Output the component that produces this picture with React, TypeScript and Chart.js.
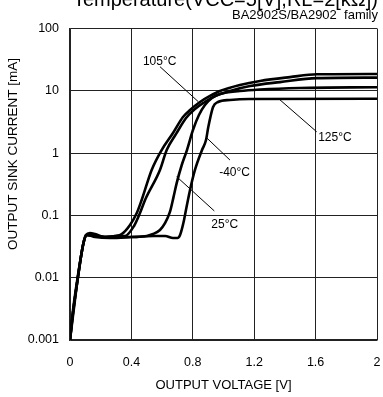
import React, { useEffect, useRef } from 'react';
import { Chart, registerables } from 'chart.js';

Chart.register(...registerables);

// ---- axis ticks ----
const xTicks = [0, 0.4, 0.8, 1.2, 1.6, 2];
const xTickLabels = ['0', '0.4', '0.8', '1.2', '1.6', '2'];
const yTicks = [0.001, 0.01, 0.1, 1, 10, 100];
const yTickLabels = ['0.001', '0.01', '0.1', '1', '10', '100'];

// ---- series (output voltage [V] / output sink current [mA]) ----
const seriesNames = ['105°C', '125°C', '25°C', '-40°C'];

const v105 = [0, 0.02, 0.052, 0.085, 0.104, 0.13, 0.163, 0.228, 0.293, 0.337, 0.391, 0.435, 0.467, 0.532, 0.597, 0.671, 0.736, 0.782, 0.847, 0.912, 0.977, 1.107, 1.238, 1.433, 1.609, 2.0];
const i105 = [0.001, 0.0028, 0.0103, 0.0335, 0.0484, 0.052, 0.0502, 0.045, 0.0467, 0.0502, 0.0702, 0.109, 0.177, 0.536, 1.12, 2.1, 3.8, 4.92, 6.61, 8.26, 9.93, 12.4, 14.4, 16.6, 18.4, 18.6];

const v125 = [0, 0.013, 0.052, 0.091, 0.111, 0.16, 0.228, 0.3, 0.358, 0.417, 0.456, 0.489, 0.586, 0.63, 0.691, 0.756, 0.814, 0.879, 0.945, 1.042, 1.173, 1.368, 1.609, 2.0];
const i125 = [0.001, 0.0022, 0.011, 0.0388, 0.0484, 0.0467, 0.045, 0.0467, 0.0467, 0.0676, 0.109, 0.177, 0.536, 1.12, 2.03, 3.66, 5.1, 6.61, 8.26, 9.93, 11.9, 13.8, 16.0, 16.3];

const v25 = [0, 0.02, 0.052, 0.085, 0.111, 0.163, 0.26, 0.4, 0.5, 0.541, 0.586, 0.619, 0.651, 0.675, 0.695, 0.728, 0.762, 0.801, 0.84, 0.879, 0.925, 0.977, 1.107, 1.238, 1.498, 2.0];
const i25 = [0.001, 0.0025, 0.0103, 0.0335, 0.0484, 0.045, 0.0433, 0.045, 0.0467, 0.0502, 0.0584, 0.075, 0.1135, 0.2, 0.33, 0.644, 1.12, 2.35, 4.09, 5.92, 7.66, 8.89, 9.93, 10.5, 11.1, 11.4];

const vM40 = [0, 0.02, 0.052, 0.085, 0.104, 0.16, 0.25, 0.4, 0.55, 0.62, 0.671, 0.7, 0.717, 0.743, 0.749, 0.782, 0.814, 0.86, 0.886, 0.901, 0.932, 0.964, 1.042, 1.173, 2.0];
const iM40 = [0.001, 0.0028, 0.0103, 0.0335, 0.0484, 0.0467, 0.045, 0.045, 0.0467, 0.0467, 0.0433, 0.0433, 0.0484, 0.0843, 0.101, 0.256, 0.536, 1.12, 1.62, 2.62, 5.5, 6.61, 7.12, 7.38, 7.47];

// ---- curve labels with leader lines (data coordinates) ----
const labelTexts = ['105°C', '125°C', '-40°C', '25°C'];
const labelX = [0.584, 1.726, 1.072, 1.008];
const labelY = [29.3, 1.79, 0.484, 0.072];
const leaderFromX = [0.586, 1.357, 0.888, 0.695];
const leaderFromY = [24.4, 7.55, 1.78, 0.418];
const leaderToX = [0.836, 1.607, 1.042, 0.94];
const leaderToY = [6.68, 2.2, 0.774, 0.118];

const titleText = 'Temperature(VCC=5[V],RL=2[kΩ])';
const subtitleText = 'BA2902S/BA2902  family';
const xTitle = 'OUTPUT VOLTAGE [V]';
const yTitle = 'OUTPUT SINK CURRENT [mA]';

const FONT = '"Liberation Sans", Arial, Helvetica, sans-serif';

const toPts = (xs: number[], ys: number[]) => xs.map((x, i) => ({ x, y: ys[i] }));

export default function App() {
  const ref = useRef<HTMLCanvasElement | null>(null);

  useEffect(() => {
    if (!ref.current) return;

    const overlay = {
      id: 'overlay',
      afterDatasetsDraw(chart: any) {
        const { ctx, scales } = chart;
        const xs = scales.x;
        const ys = scales.y;
        ctx.save();
        ctx.strokeStyle = '#000';
        ctx.lineWidth = 1;
        for (let i = 0; i < labelTexts.length; i++) {
          ctx.beginPath();
          ctx.moveTo(xs.getPixelForValue(leaderFromX[i]), ys.getPixelForValue(leaderFromY[i]));
          ctx.lineTo(xs.getPixelForValue(leaderToX[i]), ys.getPixelForValue(leaderToY[i]));
          ctx.stroke();
        }
        ctx.fillStyle = '#000';
        ctx.font = `12px ${FONT}`;
        ctx.textAlign = 'center';
        ctx.textBaseline = 'middle';
        for (let i = 0; i < labelTexts.length; i++) {
          ctx.fillText(labelTexts[i], xs.getPixelForValue(labelX[i]), ys.getPixelForValue(labelY[i]));
        }
        // header
        ctx.textAlign = 'right';
        ctx.textBaseline = 'alphabetic';
        ctx.font = `20px ${FONT}`;
        ctx.fillText(titleText, 378, 5.5);
        ctx.font = `13px ${FONT}`;
        ctx.fillText(subtitleText, 378, 19);
        // y title
        ctx.translate(13, 154);
        ctx.rotate(-Math.PI / 2);
        ctx.textAlign = 'center';
        ctx.textBaseline = 'middle';
        ctx.font = `13.5px ${FONT}`;
        ctx.fillText(yTitle, 0, 0);
        ctx.restore();
      },
    };

    const mk = (label: string, xs: number[], ys: number[]) => ({
      label,
      data: toPts(xs, ys),
      borderColor: '#000',
      backgroundColor: '#000',
      borderWidth: 2.6,
      pointRadius: 0,
      cubicInterpolationMode: 'monotone' as const,
      fill: false,
    });

    const chart = new Chart(ref.current, {
      type: 'line',
      data: {
        datasets: [
          mk(seriesNames[0], v105, i105),
          mk(seriesNames[1], v125, i125),
          mk(seriesNames[2], v25, i25),
          mk(seriesNames[3], vM40, iM40),
        ],
      },
      options: {
        animation: false,
        responsive: false,
        devicePixelRatio: 1,
        layout: { padding: { left: 0, right: 6, top: 28.5, bottom: 0 } },
        plugins: {
          legend: { display: false },
          tooltip: { enabled: false },
          title: { display: false },
        },
        scales: {
          x: {
            type: 'linear',
            min: 0,
            max: 2,
            afterBuildTicks: (s: any) => {
              s.ticks = xTicks.map((v) => ({ value: v }));
            },
            afterFit: (s: any) => {
              s.height = 57;
              s.paddingLeft = 0;
              s.paddingRight = 0;
            },
            ticks: {
              autoSkip: false,
              maxRotation: 0,
              padding: 15,
              color: '#000',
              font: { family: FONT, size: 12.5 },
              callback: (_v: any, i: number) => xTickLabels[i],
            },
            grid: { color: '#222', lineWidth: 1, drawTicks: false },
            border: { color: '#222', width: 1.5 },
            title: {
              display: true,
              text: xTitle,
              color: '#000',
              font: { family: FONT, size: 13 },
              padding: { top: 0, bottom: 4 },
            },
          },
          y: {
            type: 'logarithmic',
            min: 0.001,
            max: 100,
            afterBuildTicks: (s: any) => {
              s.ticks = yTicks.map((v) => ({ value: v, major: true }));
            },
            afterFit: (s: any) => {
              s.width = 70;
              s.paddingTop = 0;
              s.paddingBottom = 0;
            },
            ticks: {
              autoSkip: false,
              padding: 11,
              color: '#000',
              font: { family: FONT, size: 12.5 },
              callback: (_v: any, i: number) => yTickLabels[i],
            },
            grid: { color: '#222', lineWidth: 1, drawTicks: false },
            border: { color: '#222', width: 1.5 },
          },
        },
      },
      plugins: [overlay],
    } as any);

    return () => chart.destroy();
  }, []);

  return (
    <div style={{ position: 'fixed', left: 0, top: 0, width: 383, height: 397, background: '#fff' }}>
      <canvas ref={ref} width={383} height={397} style={{ display: 'block', width: 383, height: 397 }} />
    </div>
  );
}
